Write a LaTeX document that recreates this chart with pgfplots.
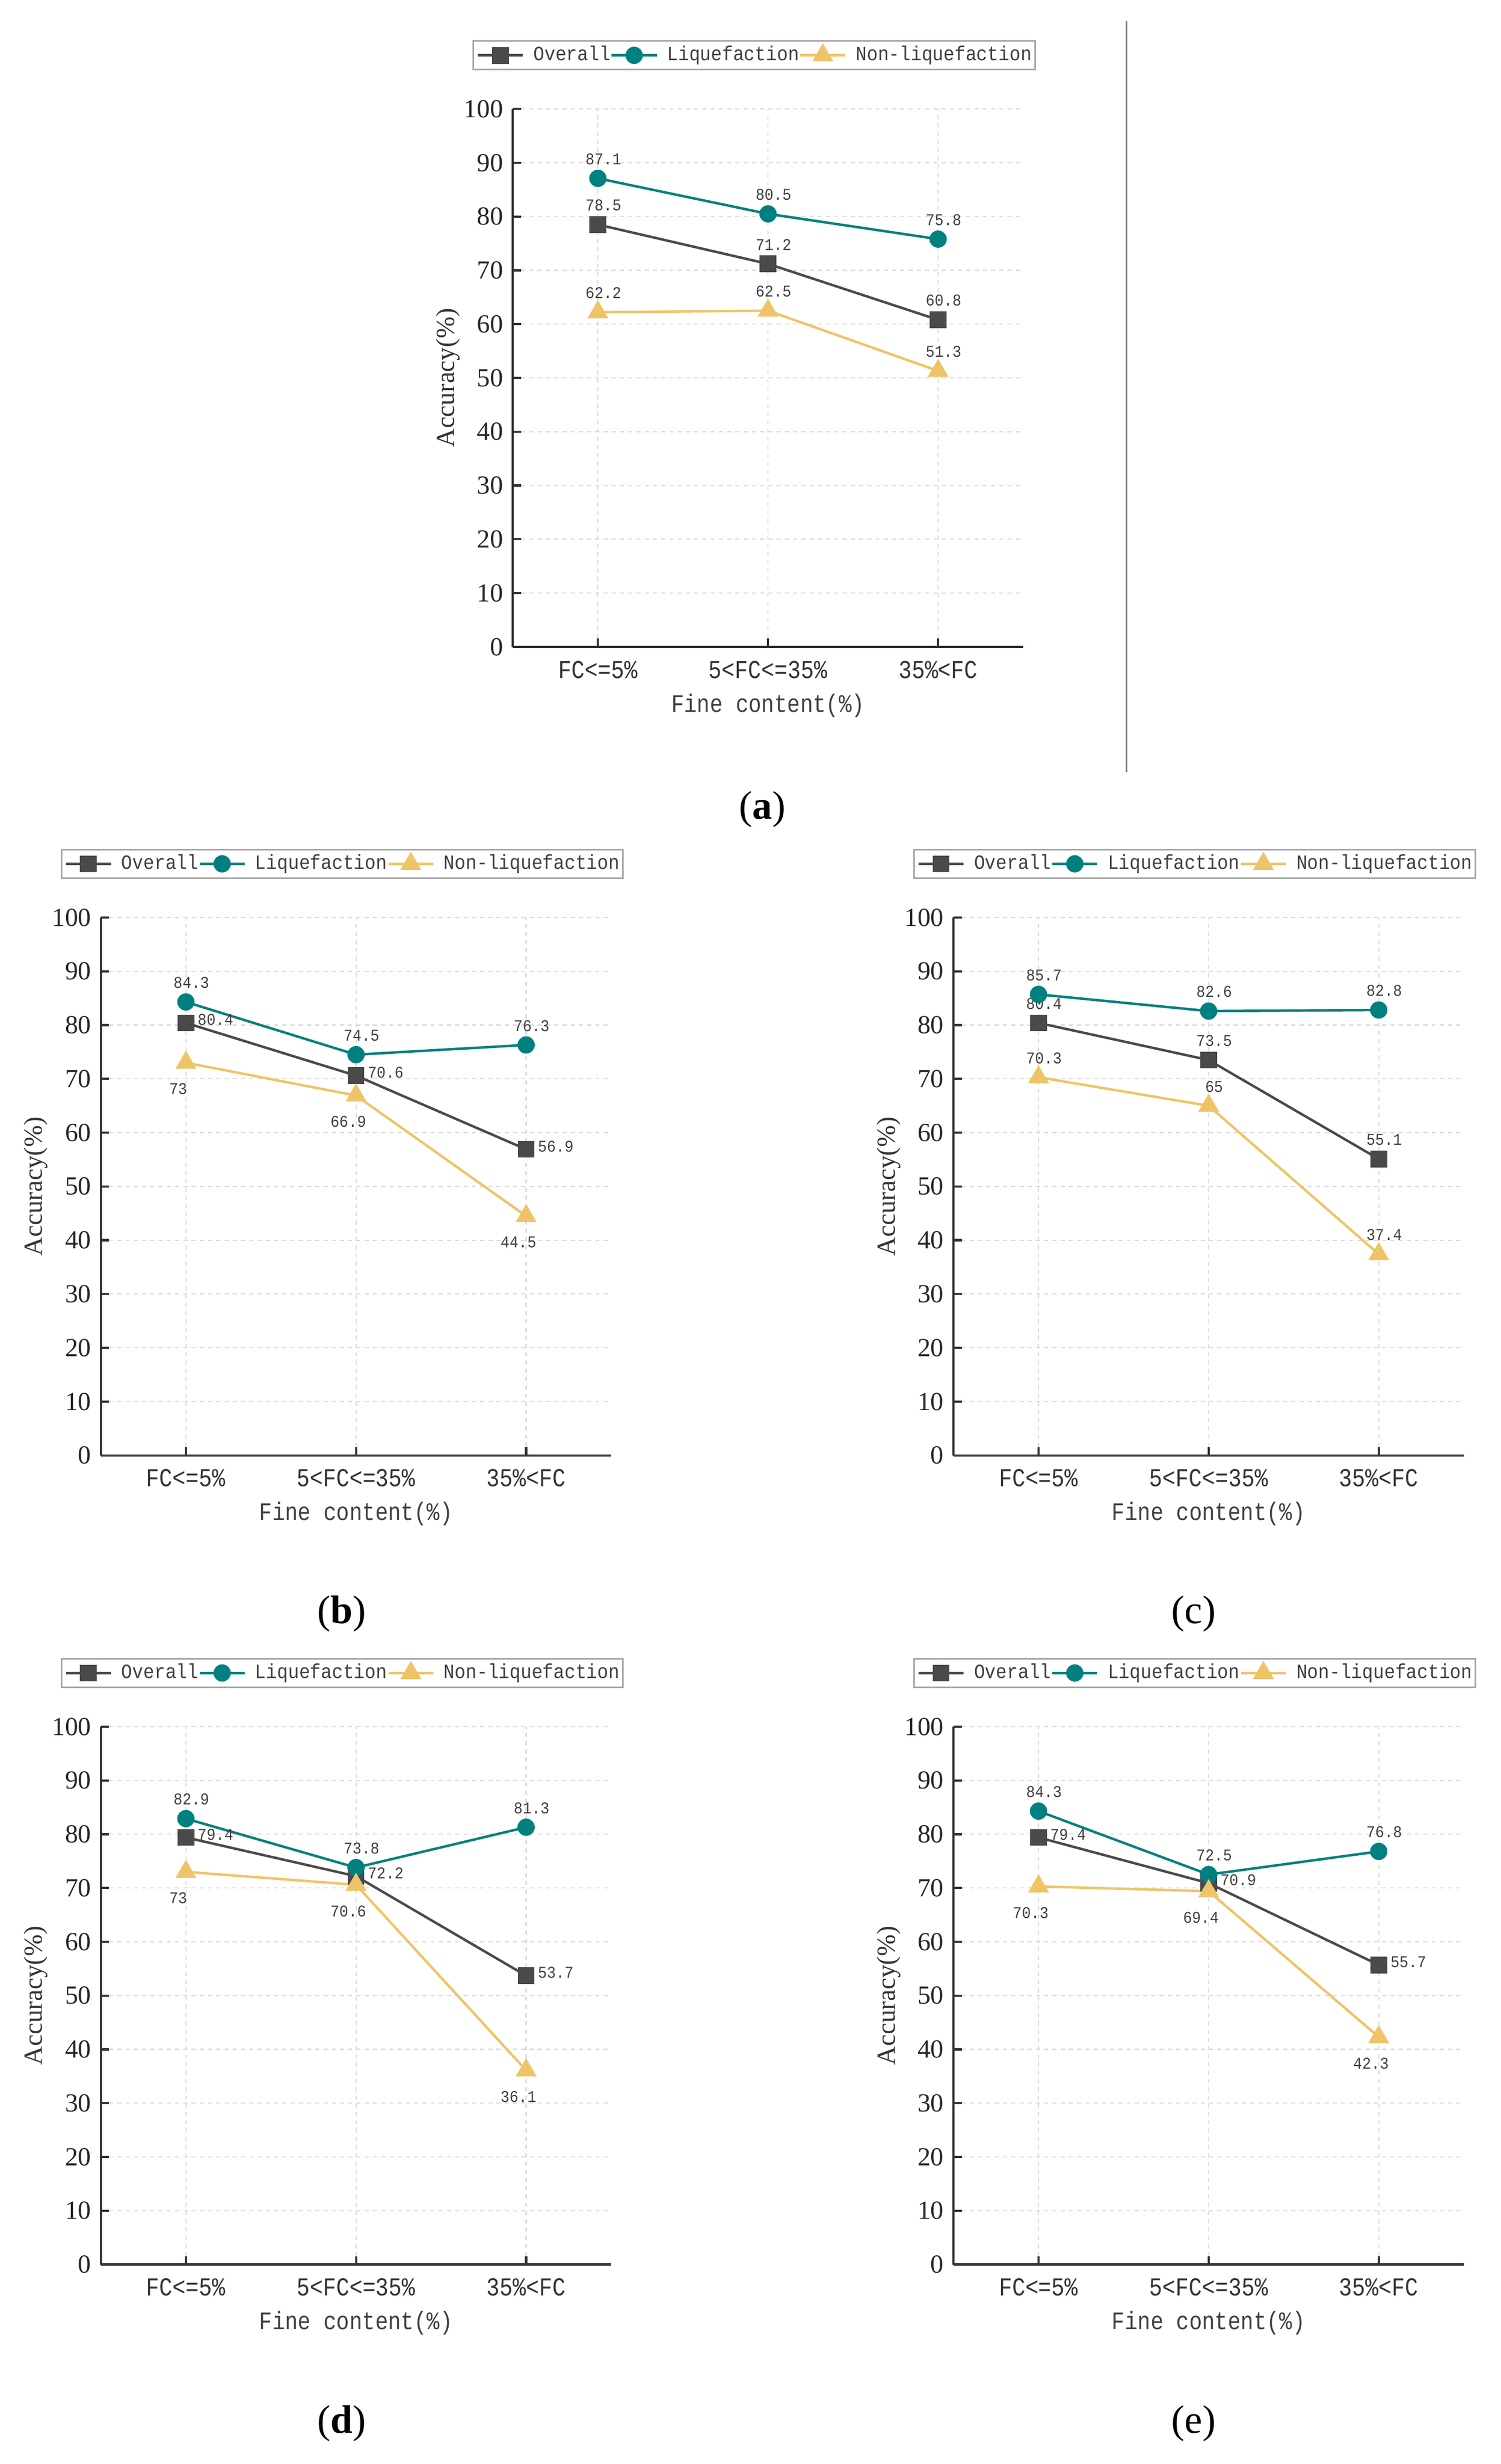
\documentclass[border=0pt]{standalone}
\usepackage{fontspec}
\setmainfont{Liberation Serif}
\newfontfamily\monof[FakeStretch=0.9]{Liberation Mono}
\newfontfamily\monox[FakeStretch=0.85]{Liberation Mono}
\usepackage{pgfplots}
\usepackage{pgfplotstable}
\pgfplotsset{compat=1.18}

\definecolor{cOver}{HTML}{4A4A4A}
\definecolor{cLiq}{HTML}{00807F}
\definecolor{cNon}{HTML}{EFC468}

% columns: category, value, label side (0 = above, 1 = right, 2 = below)
\pgfplotstableread{
x ov  ovp li   lip no   nop
0 78.5 0  87.1 0   62.2 0
1 71.2 0  80.5 0   62.5 0
2 60.8 0  75.8 0   51.3 0
}\tabA
\pgfplotstableread{
x ov  ovp li   lip no   nop
0 80.4 1  84.3 0   73   2
1 70.6 1  74.5 0   66.9 2
2 56.9 1  76.3 0   44.5 2
}\tabB
\pgfplotstableread{
x ov  ovp li   lip no   nop
0 80.4 0  85.7 0   70.3 0
1 73.5 0  82.6 0   65   0
2 55.1 0  82.8 0   37.4 0
}\tabC
\pgfplotstableread{
x ov  ovp li   lip no   nop
0 79.4 1  82.9 0   73   2
1 72.2 1  73.8 0   70.6 2
2 53.7 1  81.3 0   36.1 2
}\tabD
\pgfplotstableread{
x ov  ovp li   lip no   nop
0 79.4 1  84.3 0   70.3 2
1 70.9 1  72.5 0   69.4 2
2 55.7 1  76.8 0   42.3 2
}\tabE

\pgfplotsset{
  panel/.style={
    scale only axis, width=6.528cm, height=6.88cm,
    anchor=south west, clip=false,
    xmin=-0.5, xmax=2.5, ymin=0, ymax=100,
    xtick={0,1,2}, xticklabels={FC<=5\%, 5<FC<=35\%, 35\%<FC},
    ytick={0,10,...,100},
    axis lines=left,
    axis line style={-, line width=0.8pt, draw=black!80},
    tick align=inside, major tick length=3pt,
    tick style={line width=0.8pt, draw=black!80},
    grid=major,
    grid style={line width=0.4pt, draw=black!14, dash pattern=on 1.5pt off 1.5pt},
    /pgf/number format/assume math mode=true,
    yticklabel style={font=\fontsize{9.5}{10}\selectfont, text=black!85},
    xticklabel style={font=\monox\fontsize{9.4}{10}\selectfont, text=black!80,
      anchor=base, yshift=-11.4pt},
    xlabel={Fine content(\%)},
    xlabel style={font=\monox\fontsize{9.2}{10}\selectfont, text=black!75,
      at={(axis description cs:0.5,-0.109)}, anchor=center},
    ylabel={Accuracy(\%)},
    ylabel style={font=\fontsize{9.5}{10}\selectfont, text=black!80,
      at={(axis description cs:-0.127,0.5)}, anchor=center},
    legend columns=-1,
    legend style={at={(axis description cs:-0.079,1.128)}, anchor=north west,
      draw=black!35, line width=0.6pt, inner xsep=1.2pt, inner ysep=1pt,
      column sep=0pt, font=\monof\fontsize{7.4}{8}\selectfont, text=black!75,
      nodes={inner xsep=0pt, inner ysep=0.8pt}},
    legend image code/.code={
      \draw[mark repeat=2,mark phase=2,##1]
        plot coordinates {(0pt,0pt) (8.2pt,0pt) (16.4pt,0pt)};
      \path (19.8pt,0pt);
    },
    nodes near coords={\pgfplotspointmeta},
    point meta=explicit symbolic,
    every node near coord/.append style={font=\monof\fontsize{6}{7}\selectfont,
      text=black!75, inner sep=0pt, anchor=center,
      xshift={ifthenelse(\lside==0,2,ifthenelse(\lside==1,10.8,-2.8))*1pt},
      yshift={ifthenelse(\lside==0,7,ifthenelse(\lside==1,1.1,-9.6))*1pt}},
  },
  ovs/.style={color=cOver, line width=0.9pt, mark=square*, mark size=2.6pt,
    mark options={solid, fill=cOver, draw=cOver}},
  lis/.style={color=cLiq, line width=0.9pt, mark=*, mark size=2.7pt,
    mark options={solid, fill=cLiq, draw=cLiq}},
  nos/.style={color=cNon, line width=0.9pt, mark=triangle*, mark size=3.5pt,
    mark options={solid, fill=cNon, draw=cNon}},
}

\newcommand\threelines[1]{%
  \addplot[ovs, visualization depends on={\thisrow{ovp}\as\lside}]
    table[x=x, y=ov, meta=ov] {#1};
  \addlegendentry{Overall}
  \addplot[lis, visualization depends on={\thisrow{lip}\as\lside}]
    table[x=x, y=li, meta=li] {#1};
  \addlegendentry{Liquefaction}
  \addplot[nos, visualization depends on={\thisrow{nop}\as\lside}]
    table[x=x, y=no, meta=no] {#1};
  \addlegendentry{Non-liquefaction}
}

\begin{document}
\begin{tikzpicture}
\path[use as bounding box] (0,0) rectangle (19.2cm,-31.518cm);

\begin{axis}[panel, at={(6.56cm,-8.274cm)}]
  \threelines{\tabA}
\end{axis}
\begin{axis}[panel, at={(1.29cm,-18.616cm)}]
  \threelines{\tabB}
\end{axis}
\begin{axis}[panel, at={(12.196cm,-18.616cm)}]
  \threelines{\tabC}
\end{axis}
\begin{axis}[panel, at={(1.29cm,-28.966cm)}]
  \threelines{\tabD}
\end{axis}
\begin{axis}[panel, at={(12.196cm,-28.966cm)}]
  \threelines{\tabE}
\end{axis}

\draw[black!50, line width=0.6pt] (14.41cm,-0.27cm) -- (14.41cm,-9.88cm);

\begin{scope}[every node/.style={font=\fontsize{14.5}{16}\selectfont}]
  \node at (9.75cm,-10.35cm) {(\textbf{a})};
  \node at (4.372cm,-20.64cm) {(\textbf{b})};
  \node at (15.27cm,-20.64cm) {(c)};
  \node at (4.372cm,-31.0cm) {(\textbf{d})};
  \node at (15.27cm,-31.0cm) {(e)};
\end{scope}
\end{tikzpicture}
\end{document}
